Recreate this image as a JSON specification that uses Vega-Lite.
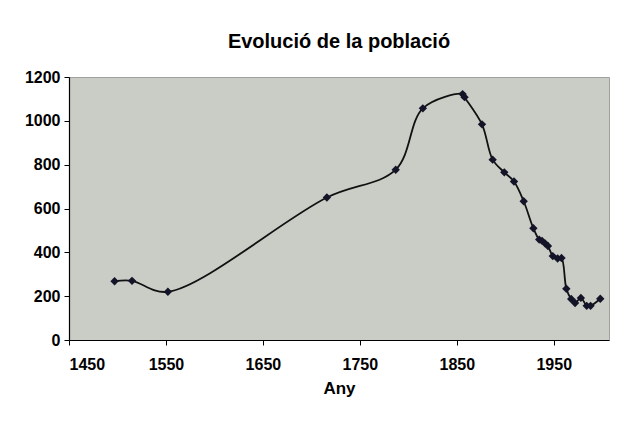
{
  "$schema": "https://vega.github.io/schema/vega-lite/v6.json",
  "width": 540,
  "height": 263,
  "autosize": {"type": "none"},
  "padding": {"left": 69, "top": 77, "right": 16, "bottom": 93},
  "background": "white",
  "title": {
    "text": "Evolució de la població",
    "font": "Liberation Sans",
    "fontSize": 20,
    "fontWeight": "bold",
    "color": "#000000",
    "anchor": "middle",
    "frame": "group",
    "offset": 17
  },
  "config": {
    "view": {"fill": "#c9cdc6", "stroke": "#a0a0a0", "strokeWidth": 1},
    "axis": {
      "labelFont": "Liberation Sans",
      "labelFontSize": 16,
      "labelFontWeight": "bold",
      "labelColor": "#000000",
      "titleFont": "Liberation Sans",
      "titleFontSize": 17,
      "titleFontWeight": "bold",
      "titleColor": "#000000",
      "domainColor": "#000000",
      "domainWidth": 1.2,
      "tickColor": "#000000",
      "grid": false,
      "tickSize": 5
    }
  },
  "data": {
    "values": [
      {"year": 1497, "pop": 268},
      {"year": 1515, "pop": 270},
      {"year": 1552, "pop": 220},
      {"year": 1716, "pop": 650},
      {"year": 1787, "pop": 777},
      {"year": 1815, "pop": 1057},
      {"year": 1856, "pop": 1122},
      {"year": 1858, "pop": 1108},
      {"year": 1876, "pop": 984},
      {"year": 1887, "pop": 823},
      {"year": 1899, "pop": 765},
      {"year": 1909, "pop": 723},
      {"year": 1919, "pop": 633},
      {"year": 1929, "pop": 510},
      {"year": 1935, "pop": 458},
      {"year": 1938, "pop": 452},
      {"year": 1941, "pop": 441},
      {"year": 1944, "pop": 429},
      {"year": 1949, "pop": 383},
      {"year": 1954, "pop": 372},
      {"year": 1958, "pop": 374},
      {"year": 1963, "pop": 234},
      {"year": 1968, "pop": 187},
      {"year": 1972, "pop": 169},
      {"year": 1978, "pop": 192},
      {"year": 1984, "pop": 156},
      {"year": 1988, "pop": 156},
      {"year": 1998, "pop": 188}
    ]
  },
  "encoding": {
    "x": {
      "field": "year",
      "type": "quantitative",
      "scale": {"domain": [1450, 2007], "nice": false, "zero": false},
      "axis": {
        "title": "Any",
        "values": [1450, 1550, 1650, 1750, 1850, 1950],
        "format": "d",
        "labelFontWeight": "bold",
        "labelPadding": 11,
        "titlePadding": 8
      }
    },
    "y": {
      "field": "pop",
      "type": "quantitative",
      "scale": {"domain": [0, 1200], "nice": false},
      "axis": {
        "title": null,
        "values": [0, 200, 400, 600, 800, 1000, 1200],
        "format": "d",
        "labelFontWeight": "bold",
        "labelPadding": 4
      }
    }
  },
  "layer": [
    {
      "mark": {"type": "line", "interpolate": "catmull-rom", "color": "#111111", "strokeWidth": 1.8}
    },
    {
      "mark": {"type": "point", "shape": "diamond", "filled": true, "color": "#141428", "size": 70, "opacity": 1}
    }
  ]
}
